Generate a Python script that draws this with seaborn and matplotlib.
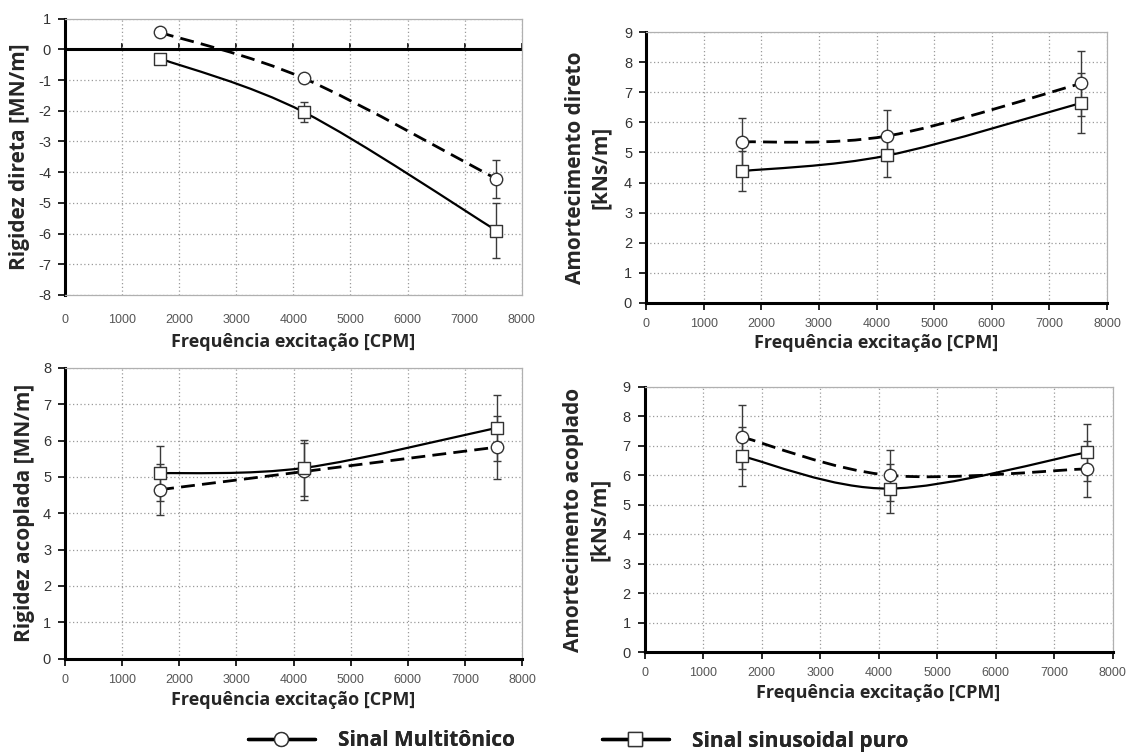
import numpy as np
import matplotlib
matplotlib.use("Agg")
import matplotlib.pyplot as plt
from matplotlib.path import Path
from matplotlib.patches import PathPatch
from matplotlib.lines import Line2D
import seaborn as sns

# ---------------- data ----------------
freq = [1665, 4190, 7555]

kd_multi = [0.55, -0.95, -4.22]
kd_multi_err = [0.08, 0.08, 0.62]
kd_sine = [-0.30, -2.05, -5.90]
kd_sine_err = [0.05, 0.32, 0.90]

cd_multi = [5.35, 5.55, 7.30]
cd_multi_err = [0.80, 0.85, 1.08]
cd_sine = [4.38, 4.90, 6.65]
cd_sine_err = [0.67, 0.72, 1.00]

kc_multi = [4.65, 5.15, 5.82]
kc_multi_err = [0.70, 0.78, 0.87]
kc_sine = [5.10, 5.25, 6.35]
kc_sine_err = [0.76, 0.78, 0.92]

cc_multi = [7.30, 6.00, 6.22]
cc_multi_err = [1.10, 0.87, 0.95]
cc_sine = [6.65, 5.55, 6.78]
cc_sine_err = [1.00, 0.83, 0.98]

xticks = [0, 1000, 2000, 3000, 4000, 5000, 6000, 7000, 8000]
xlabel = "Frequência excitação [CPM]"
legend_labels = ["Sinal Multitônico", "Sinal sinusoidal puro"]

# ---------------- style ----------------
sns.set_theme(style="white")
plt.rcParams["font.family"] = ["Open Sans", "DejaVu Sans"]

fig = plt.figure(figsize=(11.29, 7.52), dpi=100)
fig.patch.set_facecolor("white")

W, H = 1129.0, 752.0


def rect_px(left, right, top, bottom):
    return [left / W, 1 - bottom / H, (right - left) / W, (bottom - top) / H]


def smooth_line(ax, x, y, **kw):
    pts = np.column_stack([x, y]).astype(float)
    n = len(pts)
    verts = [pts[0]]
    codes = [Path.MOVETO]
    for i in range(n - 1):
        p0 = pts[max(i - 1, 0)]
        p1 = pts[i]
        p2 = pts[i + 1]
        p3 = pts[min(i + 2, n - 1)]
        c1 = p1 + (p2 - p0) / 6.0
        c2 = p2 - (p3 - p1) / 6.0
        verts += [c1, c2, p2]
        codes += [Path.CURVE4] * 3
    patch = PathPatch(Path(verts, codes), facecolor="none", **kw)
    ax.add_patch(patch)


def draw_panel(rect, multi, multi_err, sine, sine_err, ylim, yticks, ylabel,
               xlabelpad, ylabelpad, zero_axis=False):
    ax = fig.add_axes(rect)
    ax.set_xlim(0, 8000)
    ax.set_ylim(*ylim)
    ax.set_xticks(xticks)
    ax.set_yticks(yticks)
    ax.set_xticklabels([str(t) for t in xticks], fontsize=9, color="#555555",
                       family=["Liberation Sans"])
    ax.set_yticklabels([str(t) for t in yticks], fontsize=10.5, color="#333333",
                       family=["Liberation Sans"])
    ax.grid(True, color="#9a9a9a", linestyle=(0, (1, 2)), linewidth=0.9)
    ax.set_axisbelow(True)
    for s in ["top", "right"]:
        ax.spines[s].set_color("#b0b0b0")
        ax.spines[s].set_linewidth(0.9)
    ax.spines["left"].set_color("black")
    ax.spines["left"].set_linewidth(2.2)
    ax.tick_params(axis="y", direction="out", length=5, width=1.2, color="black",
                   left=True, pad=5)
    if zero_axis:
        ax.spines["bottom"].set_color("#b0b0b0")
        ax.spines["bottom"].set_linewidth(0.9)
        ax.tick_params(axis="x", bottom=False, pad=8)
        frac = (0 - ylim[0]) / (ylim[1] - ylim[0])
        ax.axhline(0, color="black", linewidth=2.2, zorder=2.5)
        sec = ax.secondary_xaxis(frac)
        sec.set_xticks(xticks)
        sec.set_xticklabels([])
        sec.spines["bottom"].set_visible(False)
        sec.tick_params(axis="x", direction="out", length=4, width=1.2, color="black")
    else:
        ax.spines["bottom"].set_color("black")
        ax.spines["bottom"].set_linewidth(2.2)
        ax.tick_params(axis="x", direction="out", length=5, width=1.2, color="black",
                       bottom=True, pad=6)

    # error bars
    ax.errorbar(freq, multi, yerr=multi_err, fmt="none", ecolor="#3a3a3a",
                elinewidth=1.0, capsize=3, capthick=1.0, zorder=3)
    ax.errorbar(freq, sine, yerr=sine_err, fmt="none", ecolor="#3a3a3a",
                elinewidth=1.0, capsize=3, capthick=1.0, zorder=3)
    # smoothed lines
    smooth_line(ax, freq, multi, edgecolor="black", linewidth=2.0,
                linestyle=(0, (5, 2.6)), zorder=4)
    smooth_line(ax, freq, sine, edgecolor="black", linewidth=1.6, zorder=4)
    # markers
    sns.scatterplot(x=freq, y=multi, ax=ax, marker="o", s=80, facecolor="white",
                    edgecolor="#333333", linewidth=1.0, zorder=5)
    sns.scatterplot(x=freq, y=sine, ax=ax, marker="s", s=80, facecolor="white",
                    edgecolor="#333333", linewidth=1.0, zorder=5)

    ax.set_xlabel(xlabel, fontsize=13, fontweight="bold", labelpad=xlabelpad)
    ax.set_ylabel(ylabel, fontsize=15, fontweight="bold", labelpad=ylabelpad,
                  linespacing=1.3)
    return ax


draw_panel(rect_px(65, 521.7, 18.6, 295), kd_multi, kd_multi_err, kd_sine,
           kd_sine_err, (-8, 1), list(range(-8, 2)), "Rigidez direta [MN/m]",
           xlabelpad=5, ylabelpad=6, zero_axis=True)
draw_panel(rect_px(646, 1107, 32.3, 302.7), cd_multi, cd_multi_err, cd_sine,
           cd_sine_err, (0, 9), list(range(0, 10)), "Amortecimento direto\n[kNs/m]",
           xlabelpad=3, ylabelpad=9)
draw_panel(rect_px(65, 522, 368, 658.5), kc_multi, kc_multi_err, kc_sine,
           kc_sine_err, (0, 8), list(range(0, 9)), "Rigidez acoplada [MN/m]",
           xlabelpad=3.5, ylabelpad=6)
draw_panel(rect_px(644.5, 1112.7, 387, 652), cc_multi, cc_multi_err, cc_sine,
           cc_sine_err, (0, 9), list(range(0, 10)), "Amortecimento acoplado\n[kNs/m]",
           xlabelpad=3.5, ylabelpad=9)

handles = [
    Line2D([0], [0], color="black", linewidth=2.4, marker="o", markersize=10,
           markerfacecolor="white", markeredgecolor="#333333"),
    Line2D([0], [0], color="black", linewidth=2.4, marker="s", markersize=10,
           markerfacecolor="white", markeredgecolor="#333333"),
]
legend_x = [248 / W, 602 / W]
for h, lab, lx in zip(handles, legend_labels, legend_x):
    leg = fig.legend([h], [lab], loc="center left", bbox_to_anchor=(lx, 1 - 741 / H),
                     frameon=False, handlelength=3.2, handletextpad=1.1,
                     borderpad=0, borderaxespad=0,
                     prop={"size": 15, "weight": "bold",
                           "family": ["Open Sans", "DejaVu Sans"]})
    fig.add_artist(leg)

fig.savefig("out.png", dpi=100, facecolor="white")
